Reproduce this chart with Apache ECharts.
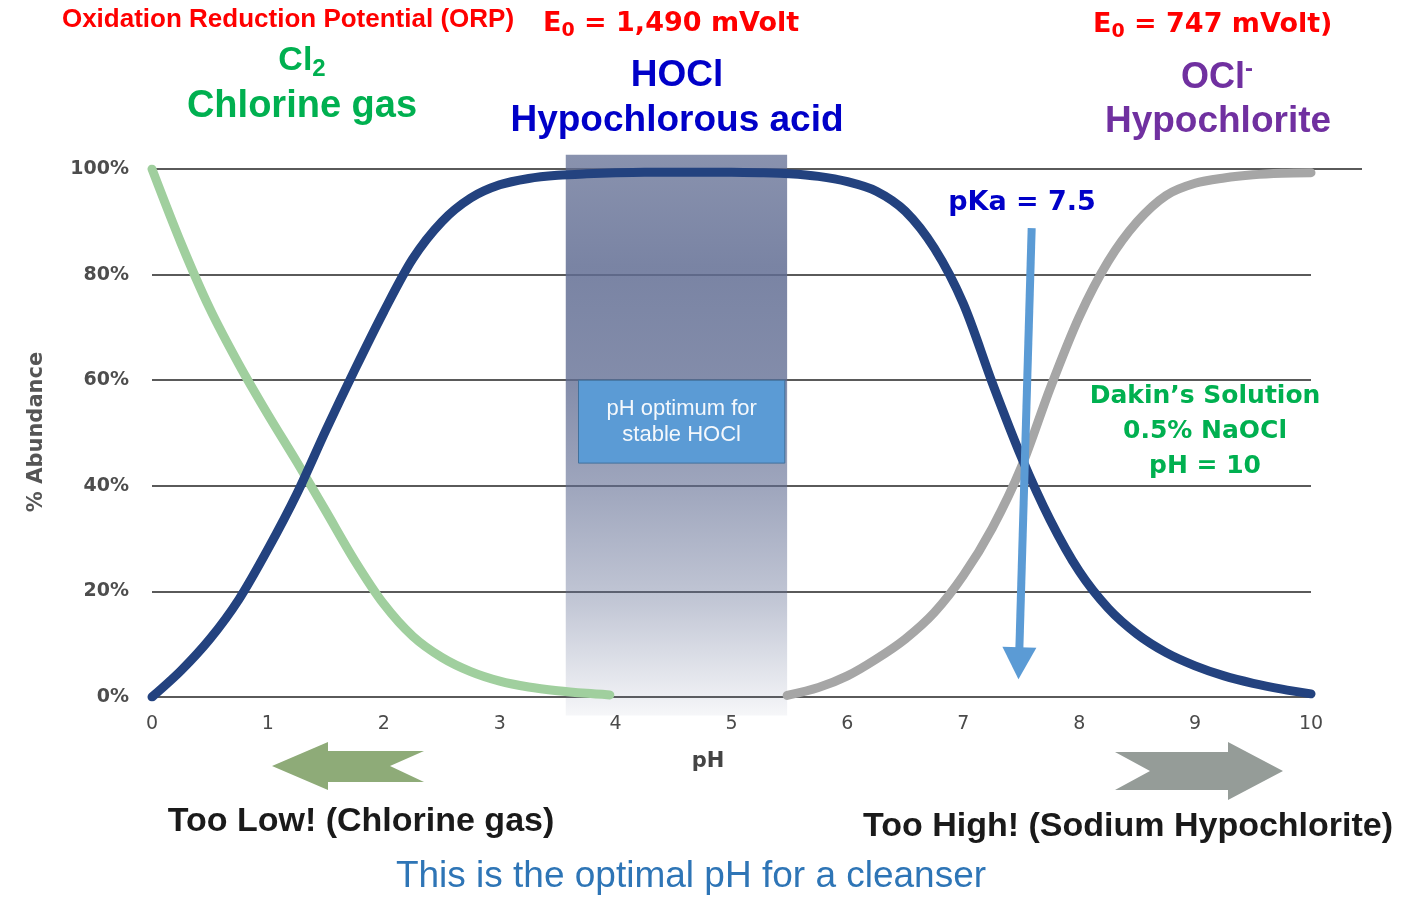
<!DOCTYPE html>
<html>
<head>
<meta charset="utf-8">
<title>Chlorine species vs pH</title>
<script src="https://cdn.jsdelivr.net/npm/echarts@6/dist/echarts.min.js"></script>
<style>
  html, body { margin: 0; padding: 0; background: #fff; }
  #chart { width: 1419px; height: 911px; }
</style>
</head>
<body>
<div id="chart"></div>
<script>
// values: pH -> % abundance
const cl2Ph = [0, 0.25, 0.5, 0.75, 1, 1.25, 1.5, 1.75, 2, 2.25, 2.5, 2.75, 3, 3.25, 3.5, 3.75, 3.95];
const cl2Pct = [100, 86, 73.5, 63, 53.5, 44.5, 35.2, 25.8, 17.6, 11.5, 7.5, 4.8, 3, 1.9, 1.2, 0.7, 0.4];

const hoclPh = [0, 0.25, 0.5, 0.75, 1, 1.25, 1.5, 1.75, 2, 2.25, 2.5, 2.75, 3, 3.25, 3.5, 3.75,
  4, 4.25, 4.5, 4.75, 5, 5.25, 5.5, 5.75, 6, 6.25, 6.5, 6.75, 7, 7.25, 7.5, 7.75,
  8, 8.25, 8.5, 8.75, 9, 9.25, 9.5, 9.75, 10];
const hoclPct = [0, 5, 11, 18.5, 28, 38.5, 50.5, 62, 73, 83, 90, 94.5, 97, 98.2, 98.8, 99.1,
  99.3, 99.4, 99.4, 99.4, 99.4, 99.3, 99.1, 98.6, 97.6, 95.8, 92, 85, 74.5, 59.5, 45.5, 33.5,
  23.8, 16.8, 11.9, 8.4, 5.9, 4, 2.6, 1.5, 0.6];

const oclPh = [5.48, 5.75, 6, 6.25, 6.5, 6.75, 7, 7.25, 7.5, 7.75, 8, 8.25, 8.5, 8.75, 9, 9.25, 9.5, 9.75, 10];
const oclPct = [0.3, 1.8, 4, 7.2, 11, 16, 23, 32, 43.5, 58.5, 72, 82.5, 90, 95, 97.3, 98.3, 98.9, 99.2, 99.3];

// shaded "optimum" band and its label box
const bandPh = [3.57, 5.48];
const bandPct = [-3.5, 102.7];
const boxPh = [3.68, 5.46];
const boxPct = [44.3, 60];
// pKa arrow: start / end
const pkaArrow = [[7.59, 88.8], [7.48, 6.4]];

const yTicks = [0, 20, 40, 60, 80, 100];

const pairs = (xs, ys) => xs.map((x, i) => [x, ys[i]]);

const SANS = '"Liberation Sans", Arial, sans-serif';
const DEJA = '"DejaVu Sans", Verdana, sans-serif';

function txt(x, y, text, opts) {
  return {
    type: 'text',
    x: x,
    y: y,
    rotation: opts.rotation || 0,
    silent: true,
    z: 10,
    style: {
      text: text,
      fill: opts.color,
      font: opts.font,
      align: opts.align || 'center',
      verticalAlign: 'middle',
      textAlign: opts.align || 'center',
      textVerticalAlign: 'middle',
      lineHeight: opts.lineHeight,
      rich: opts.rich
    }
  };
}

function subRich(size, subSize, color, fam) {
  return {
    m: { fontSize: size, fontWeight: 'bold', fontFamily: fam, fill: color, lineHeight: size + 6 },
    s: { fontSize: subSize, fontWeight: 'bold', fontFamily: fam, fill: color, lineHeight: subSize - 2, verticalAlign: 'bottom' },
    p: { fontSize: subSize, fontWeight: 'bold', fontFamily: fam, fill: color, lineHeight: subSize - 6, verticalAlign: 'top' }
  };
}

const chart = echarts.init(document.getElementById('chart'));

const bandFill = new echarts.graphic.LinearGradient(0, 0, 0, 1, [
  { offset: 0, color: 'rgba(96,108,146,0.74)' },
  { offset: 0.2, color: 'rgba(96,108,146,0.84)' },
  { offset: 0.4, color: 'rgba(96,108,146,0.78)' },
  { offset: 0.6, color: 'rgba(96,108,146,0.6)' },
  { offset: 0.8, color: 'rgba(96,108,146,0.38)' },
  { offset: 1, color: 'rgba(96,108,146,0.06)' }
]);

const curve = (name, xs, ys, color, z) => ({
  name: name,
  type: 'line',
  z: z,
  data: pairs(xs, ys),
  smooth: 0.3,
  showSymbol: false,
  lineStyle: { color: color, width: 9, cap: 'round', join: 'round' }
});

const cl2Series = curve('Cl2', cl2Ph, cl2Pct, '#a0cf9e', 3);
const oclSeries = curve('OCl-', oclPh, oclPct, '#a6a6a6', 3);
const hoclSeries = curve('HOCl', hoclPh, hoclPct, '#23427f', 4);

oclSeries.markLine = {
  silent: true,
  symbol: ['none', 'triangle'],
  symbolSize: [34, 32],
  label: { show: false },
  lineStyle: { color: '#5b9bd5', width: 8, type: 'solid', opacity: 1 },
  data: [[{ coord: pkaArrow[0] }, { coord: pkaArrow[1] }]]
};

hoclSeries.markArea = {
  silent: true,
  z: 6,
  itemStyle: { color: '#5b9bd5', borderColor: '#41719c', borderWidth: 1, opacity: 1 },
  label: {
    show: true,
    position: 'inside',
    color: '#f4f8fc',
    fontSize: 22,
    lineHeight: 26,
    fontFamily: SANS,
    formatter: 'pH optimum for\nstable HOCl'
  },
  data: [[{ coord: [boxPh[0], boxPct[1]] }, { coord: [boxPh[1], boxPct[0]] }]]
};

const option = {
  backgroundColor: '#ffffff',
  animation: false,
  grid: { left: 152, right: 108, top: 169, bottom: 214 },
  xAxis: {
    type: 'value',
    min: 0,
    max: 10,
    interval: 1,
    axisLine: { show: true, lineStyle: { color: '#5a5a5a', width: 2 } },
    axisTick: { show: false },
    splitLine: { show: false },
    axisLabel: { margin: 18, color: '#4a4a4a', fontSize: 19, fontFamily: DEJA }
  },
  yAxis: {
    type: 'value',
    min: yTicks[0],
    max: yTicks[yTicks.length - 1],
    interval: 20,
    axisLine: { show: false },
    axisTick: { show: false },
    splitLine: { show: true, lineStyle: { color: '#5a5a5a', width: 2 } },
    axisLabel: {
      margin: 23, color: '#4d4d4d', fontSize: 19, fontWeight: 'bold', fontFamily: DEJA,
      formatter: '{value}%'
    }
  },
  series: [
    {
      name: 'band',
      type: 'custom',
      z: 1,
      silent: true,
      clip: false,
      encode: { x: [0, 1] },
      data: [[bandPh[0], bandPh[1]]],
      renderItem(params, api) {
        const a = api.coord([api.value(0), bandPct[1]]);
        const b = api.coord([api.value(1), bandPct[0]]);
        return {
          type: 'rect',
          shape: { x: a[0], y: a[1], width: b[0] - a[0], height: b[1] - a[1] },
          style: { fill: bandFill }
        };
      }
    },
    cl2Series,
    oclSeries,
    hoclSeries
  ],
  graphic: [
    // the 100% line runs on past the plot
    { type: 'line', silent: true, shape: { x1: 1311, y1: 169, x2: 1362, y2: 169 }, style: { stroke: '#5a5a5a', lineWidth: 2 } },
    txt(288, 20, 'Oxidation Reduction Potential (ORP)', { color: '#ff0000', font: 'bold 26px ' + SANS }),
    txt(543, 24, '{m|E}{s|0}{m| = 1,490 mVolt}', { align: 'left', rich: subRich(27, 19, '#ff0000', DEJA) }),
    txt(1093, 25, '{m|E}{s|0}{m| = 747 mVolt)}', { align: 'left', rich: subRich(27, 19, '#ff0000', DEJA) }),
    txt(302, 61, '{m|Cl}{s|2}', { rich: subRich(34, 24, '#00b050', SANS) }),
    txt(302, 107, 'Chlorine gas', { color: '#00b050', font: 'bold 38px ' + SANS }),
    txt(677, 76, 'HOCl', { color: '#0000c8', font: 'bold 37px ' + SANS }),
    txt(677, 121, 'Hypochlorous acid', { color: '#0000c8', font: 'bold 37px ' + SANS }),
    txt(1217, 78, '{m|OCl}{p|-}', { rich: subRich(36, 24, '#7030a0', SANS) }),
    txt(1218, 122, 'Hypochlorite', { color: '#7030a0', font: 'bold 37px ' + SANS }),
    txt(1022, 203, 'pKa = 7.5', { color: '#0000c8', font: 'bold 27px ' + DEJA }),
    txt(1205, 431, 'Dakin\u2019s Solution\n0.5% NaOCl\npH = 10', { color: '#00b050', font: 'bold 25px ' + DEJA, lineHeight: 35 }),
    txt(37, 432, '% Abundance', { color: '#555555', font: 'bold 21px ' + DEJA, rotation: Math.PI / 2 }),
    txt(708, 762, 'pH', { color: '#444444', font: 'bold 21px ' + DEJA }),
    // direction arrows
    {
      type: 'polygon', silent: true,
      shape: { points: [[272, 766], [328, 742], [328, 751], [424, 751], [390, 766], [424, 782], [328, 782], [328, 790]] },
      style: { fill: '#8eab78' }
    },
    {
      type: 'polygon', silent: true,
      shape: { points: [[1283, 771], [1228, 742], [1228, 752], [1115, 752], [1150, 771], [1115, 790], [1228, 790], [1228, 800]] },
      style: { fill: '#959c98' }
    },
    txt(361, 822, 'Too Low! (Chlorine gas)', { color: '#1a1a1a', font: 'bold 34px ' + SANS }),
    txt(1128, 827, 'Too High! (Sodium Hypochlorite)', { color: '#1a1a1a', font: 'bold 34px ' + SANS }),
    txt(691, 877, 'This is the optimal pH for a cleanser', { color: '#2e75b6', font: '37px ' + SANS })
  ]
};

chart.setOption(option);
window.addEventListener('resize', chart.resize);
</script>
</body>
</html>
